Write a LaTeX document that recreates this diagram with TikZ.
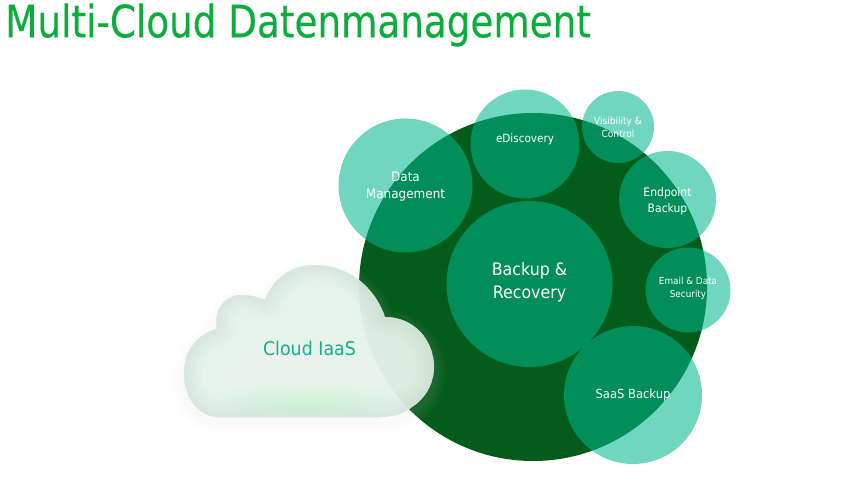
\documentclass[tikz,border=0pt]{standalone}
\usepackage{fontspec}
\setmainfont[FakeStretch=0.92]{DejaVu Sans}
\newfontfamily\titlefont[FakeStretch=0.835,FakeBold=0.25]{DejaVu Sans}
\usetikzlibrary{calc}
\definecolor{titlegreen}{HTML}{0BAE3C}
\definecolor{bigdark}{HTML}{045C1A}
\definecolor{bubble}{HTML}{00B68F}
\definecolor{cloudtext}{HTML}{1AAE8C}
\definecolor{cloudbase}{HTML}{D9EDE0}
\definecolor{cloudedge}{HTML}{A5C9B4}
\newcommand{\twolines}[3]{\raisebox{#1}[15pt][15pt]{\begin{tabular}{@{}c@{}}#2\\#3\end{tabular}}}
\tikzset{
  bubblenode/.style={circle,fill=bubble,fill opacity=0.56,text opacity=1,text=white,align=center,inner sep=0pt,minimum size=#1*0.75pt},
  softglow/.style={opacity=0.05},
}
\def\cloudpath{(215,417) .. controls (196,414) and (184,396) .. (184,373)
  .. controls (184,350) and (198,334) .. (217,329)
  .. controls (213,310) and (225,295) .. (241,295)
  .. controls (250,295) and (258,297) .. (265,300)
  .. controls (273,279) and (291,265) .. (314,265)
  .. controls (347,265) and (374,285) .. (385,317)
  .. controls (414,317) and (434,340) .. (434,367)
  .. controls (434,384) and (425,399) .. (412,407)
  .. controls (404,414) and (392,417) .. (380,417) -- cycle}
\begin{document}
\begin{tikzpicture}[x=0.75pt,y=-0.75pt]
\useasboundingbox (0,0) rectangle (855,495);
\fill[white] (0,0) rectangle (855,495);
\node[anchor=west,text=titlegreen,font=\titlefont\fontsize{33.5pt}{36pt}\selectfont,inner sep=0pt] (title) at (5,25) {Multi-Cloud Datenmanagement};
\node[circle,fill=bigdark,minimum size=261pt,inner sep=0pt] (big) at (533,287) {};
\node[bubblenode=134,font=\fontsize{9.8pt}{12.5pt}\selectfont] (data) at (405.5,185.5) {\twolines{-3.5pt}{Data}{Management}};
\node[bubblenode=109,font=\fontsize{8.5pt}{11pt}\selectfont] (edisc) at (525,144) {\raisebox{0.8pt}[15pt][15pt]{eDiscovery}};
\node[bubblenode=72,font=\fontsize{7.4pt}{9.7pt}\selectfont] (vis) at (618,127) {Visibility \&\\Control};
\node[bubblenode=97,font=\fontsize{8.8pt}{11.4pt}\selectfont] (endp) at (667.5,199.5) {\twolines{-3.7pt}{Endpoint}{Backup}};
\node[bubblenode=85,font=\fontsize{7.2pt}{9.7pt}\selectfont] (email) at (688,290) {\twolines{-0.7pt}{Email \& Data}{Security}};
\node[bubblenode=138,font=\fontsize{9.4pt}{12pt}\selectfont] (saas) at (633,395) {SaaS Backup};
\node[bubblenode=166,font=\fontsize{12.9pt}{17.5pt}\selectfont] (backup) at (529.5,284) {\twolines{-1.8pt}{Backup \&}{Recovery}};
% cloud shadow
\begin{scope}[yshift=-4pt]
\foreach \w in {24,20,16,12,8,4}{
  \draw[line width=\w*0.75pt,line join=round,color=gray!30!white,opacity=0.025] \cloudpath;
}
\end{scope}
% cloud
\fill[cloudbase,opacity=0.84] \cloudpath;
\begin{scope}
\clip \cloudpath;
\fill[cloudbase!55!white,opacity=0.7] \cloudpath;
\foreach \w in {36,30,24,18,12,6}{
  \draw[line width=\w*0.75pt,line join=round,color=cloudedge,opacity=0.035] \cloudpath;
}
\foreach \r in {1,...,10}{
  \fill[white,opacity=0.04] (319,298) ellipse ({3+2.6*\r} and {3+2.4*\r});
  \fill[white,softglow] (310,376) ellipse ({12*\r} and {2.2*\r});
  \fill[white,opacity=0.035] (300,350) ellipse ({10*\r} and {4*\r});
  \fill[green!55!white,opacity=0.012] (305,400) ellipse ({10*\r} and {1.8*\r});
}
\end{scope}
\node[text=cloudtext,font=\fontsize{14.2pt}{16pt}\selectfont,inner sep=0pt] (cloud) at (309.5,348) {Cloud IaaS};
\end{tikzpicture}
\end{document}
